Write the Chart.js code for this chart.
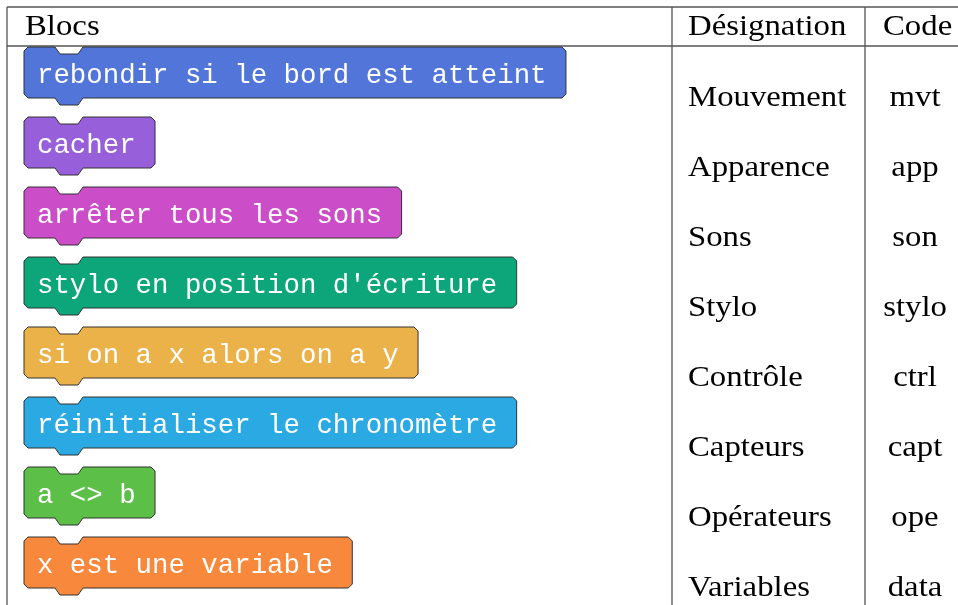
<!DOCTYPE html>
<html lang="fr">
<head>
<meta charset="utf-8">
<script src="https://cdn.jsdelivr.net/npm/chart.js@4/dist/chart.umd.min.js"></script>
<style>
  html, body { margin: 0; padding: 0; background: #fff; }
  #wrap { width: 958px; height: 605px; }
</style>
</head>
<body>
<div id="wrap"><canvas id="blocs"></canvas></div>
<script>
// Table data
const blocks = [
    'rebondir si le bord est atteint',
    'cacher',
    'arrêter tous les sons',
    "stylo en position d'écriture",
    'si on a x alors on a y',
    'réinitialiser le chronomètre',
    'a <> b',
    'x est une variable'
];
const designations = ['Mouvement', 'Apparence', 'Sons', 'Stylo', 'Contrôle', 'Capteurs', 'Opérateurs', 'Variables'];
const codes = ['mvt', 'app', 'son', 'stylo', 'ctrl', 'capt', 'ope', 'data'];
const blockColors = ['#5175d9', '#985fda', '#cc4dc8', '#0da57a', '#ecb24a', '#2ba9e2', '#5bbf48', '#f8883b'];
const headers = ['Blocs', 'Désignation', 'Code'];

// bar length = number of characters in the block text
const blockLengths = blocks.map(b => b.length);

const LINE = '#555';
const SERIF = '29px "Liberation Serif", "DejaVu Serif", serif';
const MONO = '27.4px "Liberation Mono", "DejaVu Sans Mono", monospace';
const SERIF_STRETCH = 1.13; // Computer Modern is wider than Times

function serifText(ctx, txt, x, y, align) {
    ctx.save();
    ctx.translate(x, y);
    ctx.scale(SERIF_STRETCH, 1);
    ctx.textAlign = align;
    ctx.fillText(txt, 0, 0);
    ctx.restore();
}

function blockPath(ctx, L, R, T, B) {
    const c = 4;   // chamfer
    const n1 = L + 31, n2 = L + 36, n3 = L + 54, n4 = L + 59, d = 7;
    ctx.beginPath();
    ctx.moveTo(L, T + c);
    ctx.lineTo(L + c, T);
    ctx.lineTo(n1, T);
    ctx.lineTo(n2, T + d);
    ctx.lineTo(n3, T + d);
    ctx.lineTo(n4, T);
    ctx.lineTo(R - c, T);
    ctx.lineTo(R, T + c);
    ctx.lineTo(R, B - c);
    ctx.lineTo(R - c, B);
    ctx.lineTo(n4, B);
    ctx.lineTo(n3, B + d);
    ctx.lineTo(n2, B + d);
    ctx.lineTo(n1, B);
    ctx.lineTo(L + c, B);
    ctx.lineTo(L, B - c);
    ctx.closePath();
}

const tablePlugin = {
    id: 'tablePlugin',
    beforeDraw(chart) {
        const ctx = chart.ctx;
        const w = chart.width, h = chart.height;
        const colA = 672, colB = 865;
        ctx.save();
        ctx.strokeStyle = LINE;
        ctx.lineWidth = 1.3;
        ctx.beginPath();
        ctx.moveTo(7, 7); ctx.lineTo(w, 7);
        ctx.moveTo(7, 46); ctx.lineTo(w, 46);
        ctx.moveTo(7, 7); ctx.lineTo(7, h);
        ctx.moveTo(colA, 7); ctx.lineTo(colA, h);
        ctx.moveTo(colB, 7); ctx.lineTo(colB, h);
        ctx.stroke();

        ctx.fillStyle = '#000';
        ctx.font = SERIF;
        ctx.textBaseline = 'alphabetic';
        serifText(ctx, headers[0], 25, 35, 'left');
        serifText(ctx, headers[1], 688, 35, 'left');
        serifText(ctx, headers[2], 883, 35, 'left');

        const yScale = chart.scales.y;
        designations.forEach((d, i) => {
            const y = yScale.getPixelForValue(i) + 33.5;
            serifText(ctx, d, 688, y, 'left');
            serifText(ctx, codes[i], 915, y, 'center');
        });
        ctx.restore();
    },
    afterDatasetsDraw(chart) {
        const ctx = chart.ctx;
        const meta = chart.getDatasetMeta(0);
        ctx.save();
        meta.data.forEach((bar, i) => {
            const L = bar.base - 13;
            const R = bar.x + 19.4;
            const T = bar.y - 25.5;
            const B = bar.y + 25.5;
            blockPath(ctx, L, R, T, B);
            ctx.fillStyle = blockColors[i];
            ctx.fill();
            ctx.strokeStyle = '#333';
            ctx.lineWidth = 1;
            ctx.stroke();
            ctx.fillStyle = '#fff';
            ctx.font = MONO;
            ctx.textAlign = 'left';
            ctx.textBaseline = 'alphabetic';
            ctx.fillText(blocks[i], bar.base, bar.y + 10.5);
        });
        ctx.restore();
    }
};

new Chart(document.getElementById('blocs'), {
    type: 'bar',
    data: {
        labels: blocks,
        datasets: [{
            data: blockLengths,
            backgroundColor: 'rgba(0,0,0,0)',
            borderWidth: 0,
            barThickness: 51
        }]
    },
    options: {
        indexAxis: 'y',
        responsive: true,
        maintainAspectRatio: false,
        animation: false,
        layout: { padding: { left: 37, right: 286, top: 37.5, bottom: 7.5 } },
        scales: {
            x: { display: false, min: 0, max: 38.63 },
            y: { display: false }
        },
        plugins: {
            legend: { display: false },
            tooltip: { enabled: false }
        }
    },
    plugins: [tablePlugin]
});
</script>
</body>
</html>
